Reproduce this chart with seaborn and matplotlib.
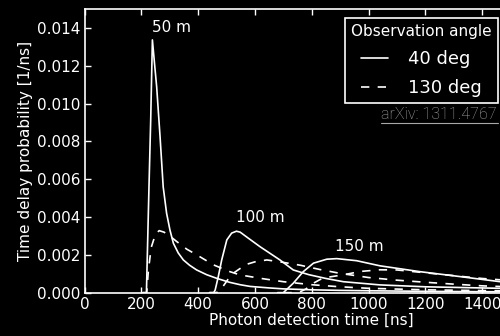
import numpy as np
import pandas as pd
import seaborn as sns
import matplotlib.pyplot as plt
from matplotlib.lines import Line2D

# values
# 50 m
t_50_40 = [205, 218, 222, 227, 233, 239, 246, 254, 266, 277, 289, 301, 313, 330, 348, 370, 395, 430, 465, 510, 548, 583, 650, 700, 800, 900, 1000, 1200, 1400, 1600]
p_50_40 = [0, 0, 0.0025, 0.0056, 0.0091, 0.01337, 0.0122, 0.0109, 0.00825, 0.0056, 0.0042, 0.0033, 0.00261, 0.0021, 0.00173, 0.00145, 0.0012, 0.00095, 0.00076, 0.00055, 0.00042, 0.00033, 0.00025, 0.0002, 0.00015, 0.00012, 0.0001, 0.00007, 0.00005, 0.00004]
t_50_130 = [205, 219, 225, 235, 250, 263, 280, 300, 325, 360, 395, 454, 512, 547, 618, 700, 800, 900, 1000, 1200, 1400, 1600]
p_50_130 = [0, 0, 0.0012, 0.0024, 0.0031, 0.00328, 0.0032, 0.003, 0.0027, 0.0023, 0.002, 0.00147, 0.00111, 0.00094, 0.00076, 0.00058, 0.00042, 0.00031, 0.00023, 0.00015, 0.00011, 0.00008]
# 100 m
t_100_40 = [440, 455, 460, 471, 483, 501, 518, 535, 548, 575, 618, 688, 735, 790, 850, 911, 1040, 1200, 1460, 1600]
p_100_40 = [0, 0, 0.00014, 0.00085, 0.00173, 0.00279, 0.00315, 0.00325, 0.0032, 0.0029, 0.00243, 0.00173, 0.0012, 0.00095, 0.00075, 0.00058, 0.00041, 0.00031, 0.00023, 0.0002]
t_100_130 = [440, 465, 483, 505, 524, 550, 571, 600, 642, 700, 760, 830, 900, 1000, 1100, 1200, 1300, 1400, 1600]
p_100_130 = [0, 0, 0.00023, 0.0007, 0.00103, 0.0013, 0.0015, 0.00163, 0.00173, 0.0016, 0.00145, 0.00122, 0.00102, 0.0008, 0.00066, 0.00055, 0.00045, 0.00036, 0.00025]
# 150 m
t_150_40 = [680, 700, 735, 770, 806, 853, 888, 958, 1040, 1181, 1322, 1463, 1600]
p_150_40 = [0, 0, 0.0005, 0.00111, 0.00156, 0.00177, 0.0018, 0.00169, 0.00142, 0.00111, 0.00085, 0.00058, 0.00045]
t_150_130 = [700, 740, 760, 780, 806, 830, 853, 911, 970, 1040, 1100, 1200, 1300, 1400, 1500, 1600]
p_150_130 = [0, 0, 0.00005, 0.0002, 0.0005, 0.0007, 0.00081, 0.00094, 0.00112, 0.00121, 0.0012, 0.00105, 0.0009, 0.00075, 0.00064, 0.00055]

distances = ['50 m', '100 m', '150 m']
label_t = [305, 618, 968]
label_p = [0.0140, 0.00395, 0.00243]

sns.set_style('ticks', {'axes.facecolor': 'black', 'figure.facecolor': 'black',
                        'axes.edgecolor': 'white', 'xtick.color': 'white',
                        'ytick.color': 'white', 'text.color': 'white',
                        'axes.labelcolor': 'white'})
plt.rcParams['font.family'] = ['DejaVu Sans']
plt.rcParams['lines.scale_dashes'] = False

fig = plt.figure(figsize=(5, 3.36), dpi=100)
fig.patch.set_facecolor('black')
ax = fig.add_axes([0.169, 0.129, 0.909, 0.844])

dash = (0, (6, 6))
curves = [(t_50_40, p_50_40, '-'), (t_50_130, p_50_130, dash),
          (t_100_40, p_100_40, '-'), (t_100_130, p_100_130, dash),
          (t_150_40, p_150_40, '-'), (t_150_130, p_150_130, dash)]
for t, p, ls in curves:
    sns.lineplot(x=t, y=p, ax=ax, color='white', lw=1.2, linestyle=ls,
                 sort=False, estimator=None)

for name, tx, py in zip(distances, label_t, label_p):
    ax.text(tx, py, name, color='white', fontsize=11, ha='center', va='center')

ax.set_xlim(0, 1600)
ax.set_ylim(0, 0.015)
ax.set_xticks([0, 200, 400, 600, 800, 1000, 1200, 1400, 1600])
ax.set_yticks([0, 0.002, 0.004, 0.006, 0.008, 0.010, 0.012, 0.014])
ax.yaxis.set_major_formatter(plt.FormatStrFormatter('%.3f'))
ax.tick_params(axis='both', labelsize=11, length=4, width=1, colors='white',
               top=True, right=True, direction='in', pad=3)
for s in ax.spines.values():
    s.set_color('white')
    s.set_linewidth(1.2)
ax.set_xlabel('Photon detection time [ns]', fontsize=11, labelpad=1)
ax.set_ylabel('Time delay probability [1/ns]', fontsize=11, labelpad=3)

handles = [Line2D([], [], color='white', lw=1.2, ls='-'),
           Line2D([], [], color='white', lw=1.2, ls=dash)]
leg = ax.legend(handles, ['40 deg', '130 deg'], title='Observation angle',
                loc='upper right', bbox_to_anchor=(0.996, 0.946),
                bbox_transform=fig.transFigure, borderaxespad=0,
                fontsize=13, title_fontsize=11, frameon=True, fancybox=False,
                handlelength=1.5, handletextpad=1.1, borderpad=0.35,
                labelspacing=0.6)
leg.get_frame().set_facecolor('black')
leg.get_frame().set_edgecolor('white')
leg.get_frame().set_linewidth(1.2)
leg.get_frame().set_alpha(1)
for txt in leg.get_texts():
    txt.set_color('white')
leg.get_title().set_color('white')

fig.text(0.762, 0.645, 'arXiv: 1311.4767', color='#a8a8a8', fontsize=11.6,
         family='Roboto', fontweight='light', ha='left', va='baseline')
fig.lines.append(Line2D([0.762, 0.996], [0.635, 0.635], transform=fig.transFigure,
                        color='#a8a8a8', lw=0.8))

fig.savefig('out.png', dpi=100, facecolor='black')
